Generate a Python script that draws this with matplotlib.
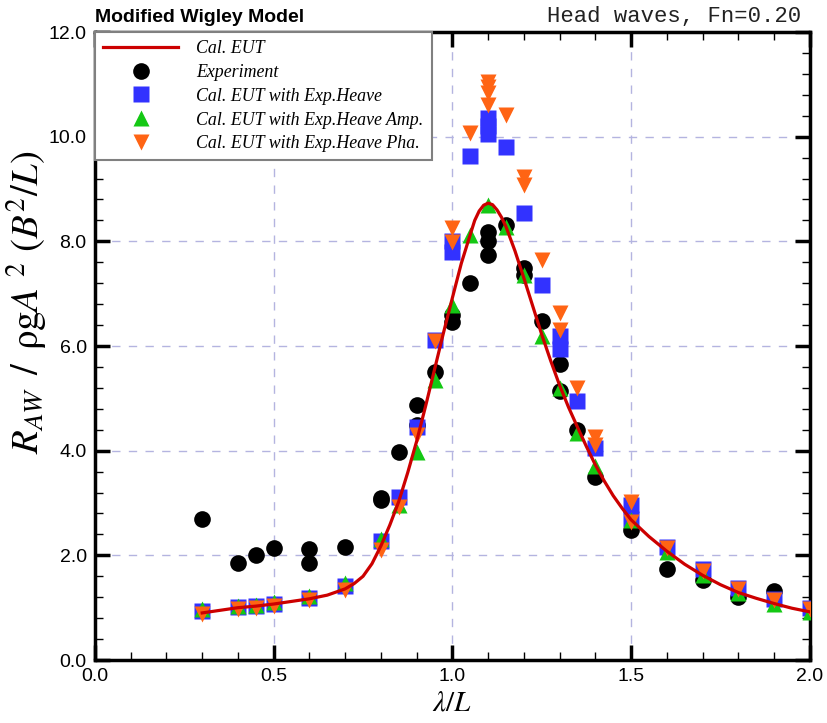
import numpy as np
import matplotlib
matplotlib.use("Agg")
import matplotlib.pyplot as plt
from matplotlib.ticker import MultipleLocator, FormatStrFormatter

# Cal. EUT curve
x_cal = [0.3, 0.35, 0.4, 0.45, 0.5, 0.55, 0.6, 0.65, 0.7, 0.725, 0.75, 0.775, 0.8, 0.825, 0.85,
         0.875, 0.9, 0.925, 0.95, 0.975, 1.0, 1.025, 1.05, 1.0625, 1.075, 1.0875, 1.1, 1.1125,
         1.125, 1.1375, 1.15, 1.175, 1.2, 1.225, 1.25, 1.275, 1.3, 1.325, 1.35, 1.375, 1.4,
         1.425, 1.45, 1.475, 1.5, 1.55, 1.6, 1.65, 1.7, 1.75, 1.8, 1.85, 1.9, 1.95, 2.0]
y_cal = [0.9, 0.95, 1.0, 1.03, 1.07, 1.12, 1.17, 1.24, 1.36, 1.46, 1.6, 1.84, 2.18, 2.58, 3.03,
         3.58, 4.18, 4.85, 5.55, 6.25, 6.92, 7.58, 8.13, 8.4, 8.58, 8.69, 8.73, 8.7,
         8.6, 8.46, 8.28, 7.82, 7.3, 6.76, 6.22, 5.72, 5.25, 4.83, 4.45, 4.08, 3.73,
         3.42, 3.14, 2.9, 2.68, 2.36, 2.08, 1.83, 1.62, 1.44, 1.29, 1.18, 1.08, 0.99, 0.92]

# Experiment
x_exp = [0.3, 0.4, 0.45, 0.5, 0.6, 0.6, 0.7, 0.8, 0.8, 0.85, 0.9, 0.9, 0.95, 1.0, 1.0, 1.05,
         1.1, 1.1, 1.1, 1.15, 1.2, 1.2, 1.25, 1.3, 1.3, 1.35, 1.4, 1.5, 1.6, 1.7, 1.8, 1.9]
y_exp = [2.7, 1.85, 2.0, 2.14, 2.12, 1.85, 2.16, 3.1, 3.05, 3.98, 4.87, 4.5, 5.5, 6.6, 6.45, 7.2,
         8.18, 8.0, 7.74, 8.31, 7.49, 7.36, 6.48, 5.66, 5.14, 4.4, 3.5, 2.48, 1.74, 1.53, 1.2, 1.32]

# Cal. EUT with Exp.Heave
x_heave = [0.3, 0.4, 0.45, 0.5, 0.6, 0.7, 0.8, 0.85, 0.9, 0.95, 1.0, 1.0, 1.05, 1.1, 1.1, 1.1,
           1.15, 1.2, 1.25, 1.3, 1.3, 1.35, 1.4, 1.5, 1.5, 1.6, 1.7, 1.8, 1.9, 2.0]
y_heave = [0.93, 1.01, 1.04, 1.08, 1.19, 1.42, 2.28, 3.12, 4.45, 6.12, 8.0, 7.8, 9.63, 10.35, 10.2, 10.05,
           9.8, 8.54, 7.17, 6.2, 5.95, 4.95, 4.05, 2.96, 2.7, 2.16, 1.73, 1.38, 1.17, 1.0]

# Cal. EUT with Exp.Heave Amp.
x_amp = [0.3, 0.4, 0.45, 0.5, 0.6, 0.7, 0.8, 0.85, 0.9, 0.95, 1.0, 1.05, 1.1, 1.15, 1.2, 1.25,
         1.3, 1.35, 1.4, 1.5, 1.6, 1.7, 1.8, 1.9, 2.0]
y_amp = [0.97, 1.04, 1.06, 1.1, 1.22, 1.48, 2.32, 2.97, 3.97, 5.35, 6.78, 8.12, 8.7, 8.28, 7.35, 6.2,
         5.2, 4.33, 3.7, 2.67, 2.07, 1.62, 1.28, 1.07, 0.92]

# Cal. EUT with Exp.Heave Pha.
x_pha = [0.3, 0.4, 0.45, 0.5, 0.6, 0.7, 0.8, 0.85, 0.9, 0.95, 1.0, 1.0, 1.05, 1.1, 1.1, 1.1, 1.1,
         1.15, 1.2, 1.2, 1.25, 1.3, 1.3, 1.35, 1.4, 1.4, 1.5, 1.5, 1.6, 1.7, 1.8, 1.9, 2.0]
y_pha = [0.88, 0.98, 1.0, 1.04, 1.15, 1.33, 2.1, 2.93, 4.3, 6.1, 8.25, 7.98, 10.07, 11.05, 10.95, 10.83, 10.6,
         10.41, 9.23, 9.08, 7.64, 6.63, 6.31, 5.2, 4.26, 4.1, 3.02, 2.64, 2.15, 1.7, 1.36, 1.14, 0.98]

plt.rcParams['mathtext.fontset'] = 'stix'

fig = plt.figure(figsize=(8.28, 7.23), dpi=100)
ax = fig.add_axes([0.1147, 0.0871, 0.8633, 0.8686])

ax.plot(x_exp, y_exp, 'o', color='black', ms=12, mec='none', label='Experiment', zorder=3)
ax.plot(x_heave, y_heave, 's', color='#3232ff', ms=11, mec='none', label='Cal. EUT with Exp.Heave', zorder=4)
ax.plot(x_amp, y_amp, '^', color='#14c814', ms=12, mec='none', label='Cal. EUT with Exp.Heave Amp.', zorder=5)
ax.plot(x_pha, y_pha, 'v', color='#ff6414', ms=12, mec='none', label='Cal. EUT with Exp.Heave Pha.', zorder=6)
ax.plot(x_cal, y_cal, '-', color='#cc0000', lw=2.3, label='Cal. EUT', zorder=7)

ax.set_xlim(0, 2.0)
ax.set_ylim(0, 12.0)
ax.xaxis.set_major_locator(MultipleLocator(0.5))
ax.xaxis.set_minor_locator(MultipleLocator(0.1))
ax.yaxis.set_major_locator(MultipleLocator(2.0))
ax.yaxis.set_minor_locator(MultipleLocator(0.4))
ax.xaxis.set_major_formatter(FormatStrFormatter('%.1f'))
ax.yaxis.set_major_formatter(FormatStrFormatter('%.1f'))

ax.tick_params(which='both', direction='in', top=True, right=True,
               labelsize=14, labelfontfamily='Liberation Sans')
ax.tick_params(which='major', length=11, width=2.5, pad=6)
ax.tick_params(which='minor', length=6, width=1.0)
for s in ax.spines.values():
    s.set_linewidth(2.5)

ax.grid(True, which='major', linestyle=(0, (6, 6)), color='#b4b4e0', lw=1.0)
ax.set_axisbelow(True)

ax.set_xlabel(r'$\lambda/L$', fontsize=21, labelpad=2)
ax.set_ylabel(r'$R_{AW}\ \,/\ \,\mathrm{\rho g}A^{\ 2}\ (B^2/L)$', fontsize=28)
ax.yaxis.set_label_coords(-0.064, 0.57)

fig.text(0.1147, 0.964, 'Modified Wigley Model', fontsize=14, fontweight='bold',
         family='Liberation Sans', ha='left', va='bottom')
fig.text(0.967, 0.962, 'Head waves, Fn=0.20', fontsize=16, family='Liberation Mono',
         ha='right', va='bottom', color='#222222')

h, l = ax.get_legend_handles_labels()
order = [4, 0, 1, 2, 3]
leg = ax.legend([h[i] for i in order], [l[i] for i in order], loc='upper left',
                bbox_to_anchor=(0, 1), borderaxespad=0, fancybox=False, framealpha=1,
                edgecolor='#808080', handlelength=4.2, handletextpad=1.0,
                labelspacing=0.38, borderpad=0.45,
                prop={'family': 'Liberation Serif', 'style': 'italic', 'size': 12.9})
leg.get_frame().set_linewidth(1.5)
leg.set_zorder(10)

fig.savefig('out.png', dpi=100)
